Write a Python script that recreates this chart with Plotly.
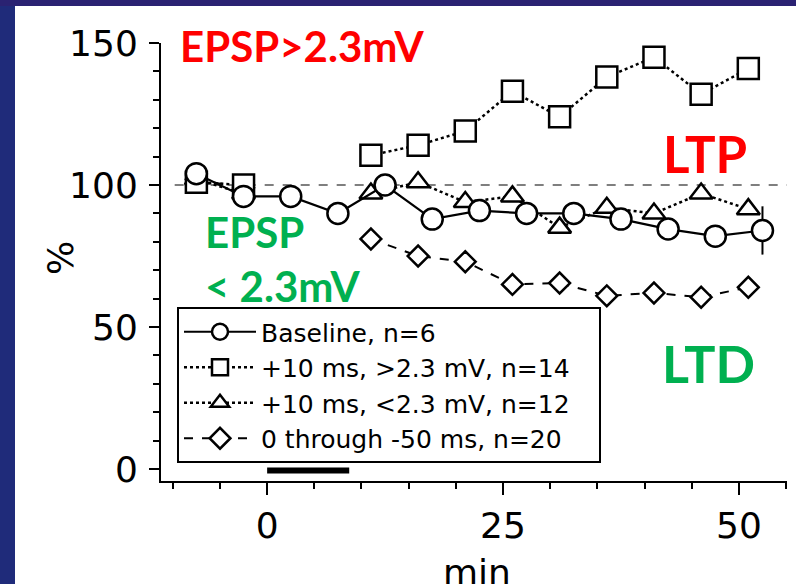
import plotly.graph_objects as go

# ---- data ----
base_x = [-7.5, -2.5, 2.5, 7.5, 12.5, 17.5, 22.5, 27.5, 32.5, 37.5, 42.5, 47.5, 52.5]
base_y = [104, 96, 96, 90, 100, 88, 91, 90, 90, 88, 84.5, 82, 84]
base_err = [0, 0, 0, 0, 0, 0, 0, 0, 0, 0, 0, 0, 8.5]

sq_x = [-7.5, -2.5, None, 11, 16, 21, 26, 31, 36, 41, 46, 51]
sq_y = [101, 100, None, 110.5, 114, 119, 133, 124, 138, 145, 132, 141]

tri_x = [-7.5, -2.5, None, 11, 16, 21, 26, 31, 36, 41, 46, 51]
tri_y = [102, 97, None, 97, 101, 94, 96, 85, 92, 90, 97, 91.5]

dia_x = [-7.5, -2.5, None, 11, 16, 21, 26, 31, 36, 41, 46, 51]
dia_y = [102, 99, None, 81, 75, 73, 65, 65.5, 61, 62, 60.5, 64]

names = ["Baseline, n=6", "+10 ms, >2.3 mV, n=14",
         "+10 ms, <2.3 mV, n=12", "0 through -50 ms, n=20"]

ref_x = [-9.8, 55.1]
ref_y = [100, 100]
bar_x = [0, 8.7]
bar_y = [-0.5, -0.5]

x_ticks = [0, 25, 50]
y_ticks = [0, 50, 100, 150]

# ---- layout geometry (pixels) ----
W, H = 796, 584
L, R, T, B = 161, 787, 43, 481


def px(xp):
    return (xp - L) / (R - L)


def py(yp):
    return (B - yp) / (B - T)


fig = go.Figure()

mk = dict(color="white", line=dict(color="black", width=2.5))

fig.add_trace(go.Scatter(x=ref_x, y=ref_y, mode="lines", showlegend=False,
                         line=dict(color="black", width=1.2, dash="dash"),
                         hoverinfo="skip"))
fig.add_trace(go.Scatter(x=bar_x, y=bar_y, mode="lines", showlegend=False,
                         line=dict(color="black", width=6), hoverinfo="skip"))

fig.add_trace(go.Scatter(x=dia_x, y=dia_y, name=names[3], mode="lines+markers",
                         line=dict(color="black", width=2, dash="dash"),
                         marker=dict(symbol="diamond", size=16, **mk),
                         legendrank=4))
fig.add_trace(go.Scatter(x=tri_x, y=tri_y, name=names[2], mode="lines+markers",
                         line=dict(color="black", width=2.5, dash="dot"),
                         marker=dict(symbol="triangle-up", size=20, **mk),
                         legendrank=3))
fig.add_trace(go.Scatter(x=sq_x, y=sq_y, name=names[1] + "&nbsp;" * 3,
                         mode="lines+markers",
                         line=dict(color="black", width=2.5, dash="dot"),
                         marker=dict(symbol="square", size=21, **mk),
                         legendrank=2))
fig.add_trace(go.Scatter(x=base_x, y=base_y, name=names[0], mode="lines+markers",
                         line=dict(color="black", width=2.2),
                         marker=dict(symbol="circle", size=21, **mk),
                         error_y=dict(type="data", array=base_err, color="black",
                                      thickness=2, width=0),
                         legendrank=1))

black_font = "DejaVu Sans"

# slide background frame (dark blue strips at left and top)
shapes = [
    dict(type="rect", xref="paper", yref="paper", layer="below",
         x0=px(-10), x1=px(15), y0=py(H + 10), y1=py(-10),
         fillcolor="#1f2b7a", line=dict(width=0)),
    dict(type="rect", xref="paper", yref="paper", layer="below",
         x0=px(-10), x1=px(W + 10), y0=py(6), y1=py(-10),
         fillcolor="#2a2272", line=dict(width=0)),
]

ann = []
red = "#FF0000"
green = "#00B050"
tf = "Lato"


def txt(s, x, y, color, size, xanchor="left", family=tf, angle=0):
    ann.append(dict(text=s, x=px(x), y=py(y), xref="paper",
                    yref="paper", xanchor=xanchor, yanchor="middle",
                    textangle=angle,
                    showarrow=False, font=dict(family=family, size=size, color=color)))


txt("<b>EPSP&gt;2.3mV</b>", 178, 46, red, 42)
txt("<b>LTP</b>", 661, 153, red, 51)
txt("<b>EPSP</b>", 203, 232, green, 42)
txt("<b>&lt; 2.3mV</b>", 203, 286, green, 42)
txt("<b>LTD</b>", 660, 363, green, 52)
txt("%", 60, 258, "black", 36, xanchor="center", family=black_font, angle=-90)
txt("min", 477, 572, "black", 36, xanchor="center", family=black_font)

fig.update_layout(
    width=W, height=H,
    margin=dict(l=L, r=W - R, t=T, b=H - B, autoexpand=False),
    paper_bgcolor="white",
    plot_bgcolor="rgba(0,0,0,0)",
    shapes=shapes,
    annotations=ann,
    showlegend=True,
    legend=dict(x=px(177), y=py(307), xanchor="left", yanchor="top",
                bgcolor="white", bordercolor="black", borderwidth=2,
                font=dict(family=black_font, size=25, color="black"),
                itemwidth=72, tracegroupgap=0, traceorder="normal"),
    xaxis=dict(range=[-11.25, 55.1], showgrid=False, zeroline=False,
               automargin=False,
               showline=True, linecolor="black", linewidth=2,
               tickmode="array", tickvals=x_ticks,
               ticks="outside", ticklen=12, tickwidth=2, tickcolor="black",
               minor=dict(dtick=5, tick0=0, ticks="outside", ticklen=6,
                          tickwidth=1.5, tickcolor="black"),
               tickfont=dict(family=black_font, size=36, color="black")),
    yaxis=dict(range=[-4.2, 150], showgrid=False, zeroline=False,
               automargin=False,
               showline=True, linecolor="black", linewidth=2,
               tickmode="array", tickvals=y_ticks,
               ticks="outside", ticklen=10, tickwidth=2, tickcolor="black",
               ticklabelstandoff=4,
               minor=dict(dtick=10, tick0=0, ticks="outside", ticklen=6,
                          tickwidth=1.5, tickcolor="black"),
               tickfont=dict(family=black_font, size=36, color="black")),
)

fig.write_html("out.html", config={"displayModeBar": False},
               post_script="document.body.style.margin='0';"
                           "document.body.style.padding='0';"
                           "document.body.style.overflow='hidden';"
                           "document.body.style.background='white';"
                           "document.documentElement.style.background='white';"
                           "document.documentElement.style.overflow='hidden';")
